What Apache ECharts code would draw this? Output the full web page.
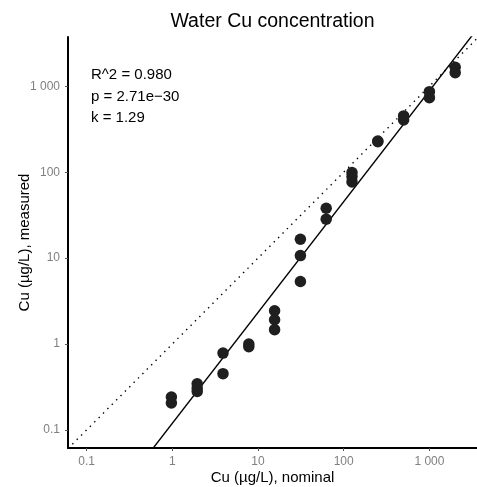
<!DOCTYPE html>
<html>
<head>
<meta charset="utf-8">
<script src="https://cdn.jsdelivr.net/npm/echarts@6/dist/echarts.min.js"></script>
<style>html,body{margin:0;padding:0;background:#fff;}#c{width:477px;height:487px;}</style>
</head>
<body>
<div id="c"></div>
<script>
// nominal concentrations (µg/L)
const nominal = [0.9765625, 1.953125, 3.90625, 7.8125, 15.625, 31.25, 62.5, 125, 250, 500, 1000, 2000];
// measured replicates for each nominal concentration
const measured = [
  [0.242, 0.206],
  [0.345, 0.308, 0.281],
  [0.785, 0.452],
  [1.0, 0.93],
  [2.44, 1.92, 1.47],
  [16.6, 10.7, 5.35],
  [38.1, 28.4],
  [98.9, 88.9, 77.1],
  [231, 226],
  [452, 405],
  [865, 737],
  [1663, 1439]
];
const tickValues = [0.1, 1, 10, 100, 1000];
const statsText = ['R^2 = 0.980', 'p = 2.71e\u221230', 'k = 1.29'];
const slopeK = 1.29;
const interceptLog10 = -0.923;
const xRange = [0.0607, 3592];
const yRange = [0.0617, 3743];

const points = [];
nominal.forEach((x, i) => measured[i].forEach(y => points.push([x, y])));

function fmt(v) {
  for (const t of tickValues) {
    if (Math.abs(Math.log10(v) - Math.log10(t)) < 1e-6) {
      return t >= 1000 ? String(t).replace(/\B(?=(\d{3})+(?!\d))/g, ' ') : String(t);
    }
  }
  return '';
}

const fitLine = [xRange[0], xRange[1]].map(x => [x, Math.pow(10, interceptLog10) * Math.pow(x, slopeK)]);
const oneToOne = [[xRange[0], xRange[0]], [yRange[1], yRange[1]]];

const chart = echarts.init(document.getElementById('c'), null, {renderer: 'canvas'});
const axisCommon = {
  type: 'log', logBase: 10,
  nameLocation: 'middle',
  nameMoveOverlap: false,
  nameTextStyle: {fontFamily: 'Liberation Sans', fontSize: 15, color: '#000'},
  axisLine: {show: true, lineStyle: {color: '#000', width: 2}},
  axisTick: {show: true, length: 3, lineStyle: {color: '#555', width: 1}},
  axisLabel: {fontFamily: 'Liberation Sans', fontSize: 12, color: '#808080', formatter: fmt, showMinLabel: false, showMaxLabel: false},
  splitLine: {show: false},
  minorTick: {show: false},
  minorSplitLine: {show: false}
};
chart.setOption({
  animation: false,
  grid: {left: 68, right: 0, top: 37, bottom: 39, containLabel: false, outerBoundsMode: 'none'},
  xAxis: Object.assign({}, axisCommon, {
    min: xRange[0], max: xRange[1],
    name: 'Cu (µg/L), nominal', nameGap: 22.5,
    axisLabel: Object.assign({}, axisCommon.axisLabel, {margin: 8})
  }),
  yAxis: Object.assign({}, axisCommon, {
    min: yRange[0], max: yRange[1],
    name: 'Cu (µg/L), measured', nameGap: 36, nameRotate: 90,
    axisLabel: Object.assign({}, axisCommon.axisLabel, {margin: 8})
  }),
  graphic: [
    {type: 'text', x: 272.5, y: 21.5, style: {text: 'Water Cu concentration', align: 'center', verticalAlign: 'middle', font: '19.5px "Liberation Sans"', fill: '#000'}, z: 100},
    {type: 'text', x: 91, y: 96.5, style: {text: statsText.join('\n'), verticalAlign: 'middle', font: '15px "Liberation Sans"', lineHeight: 21.3, fill: '#000'}, z: 100}
  ],
  series: [
    {type: 'line', data: oneToOne, showSymbol: false, symbol: 'none', clip: true,
     lineStyle: {color: '#000', width: 1.4, type: [1.4, 4.8]}, z: 1, silent: true},
    {type: 'line', data: fitLine, showSymbol: false, symbol: 'none', clip: true,
     lineStyle: {color: '#000', width: 1.4}, z: 2, silent: true},
    {type: 'scatter', data: points, symbol: 'circle', symbolSize: 11.5,
     itemStyle: {color: '#1f1f1f', opacity: 1}, z: 3}
  ]
});
</script>
</body>
</html>
